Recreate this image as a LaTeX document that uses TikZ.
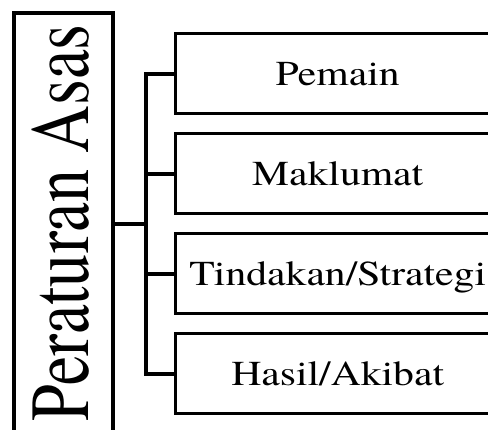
\documentclass[tikz,border=0pt]{standalone}
\usepackage{fontspec}
\newfontfamily\timesfont{texgyretermes-regular.otf}
\usetikzlibrary{positioning}
\newcommand{\boxtext}[1]{\scalebox{1.19}[1]{#1}}
\newcommand{\titletext}[1]{\scalebox{0.786}[1]{#1}}

\begin{document}
\begin{tikzpicture}
[x=1pt, y=-1pt, node distance=20pt,
% STYLES
% The frame style is used for the tall box on the left
frame/.style={rectangle, draw, line width=3.2pt, inner sep=0pt, outer sep=0pt, minimum width=99pt, minimum height=440pt},
% The heading style is used for the rotated title
heading/.style={inner sep=0pt, outer sep=0pt, font=\timesfont\fontsize{84}{90}\selectfont},
% The part style is used to draw the four boxes on the right
part/.style={rectangle, draw, line width=3pt, inner sep=0pt, outer sep=0pt, minimum width=324pt, minimum height=80pt, text height=23pt, text depth=0pt, font=\timesfont\fontsize{35}{40}\selectfont},
% The link style is used for the bracket
link/.style={line width=4.5pt}]

\path[use as bounding box, clip] (0,0) rectangle (488,430);

% Draw the title
\node [frame, anchor=north west] (rule) at (14,13) {};
\node [heading, rotate=90, anchor=base] (title) at (88,223) {\titletext{Peraturan Asas}};

% Draw the parts
\node [part] (pemain) at (337.7,74) {\boxtext{Pemain}};
\node [part, below=of pemain] (maklumat) {\boxtext{Maklumat}};
\node [part, below=of maklumat] (tindakan) {\boxtext{Tindakan/Strategi}};
\node [part, below=of tindakan] (hasil) {\boxtext{Hasil/Akibat}};

% Draw the bracket between title and parts
\coordinate (hub) at (146,224);
\draw[link] (rule.east |- hub) -- (hub);
\draw[link] (pemain.west) -| (hub) |- (hasil.west);
\draw[link] (maklumat.west) -- (maklumat.west -| hub);
\draw[link] (tindakan.west) -- (tindakan.west -| hub);

\end{tikzpicture}
\end{document}
